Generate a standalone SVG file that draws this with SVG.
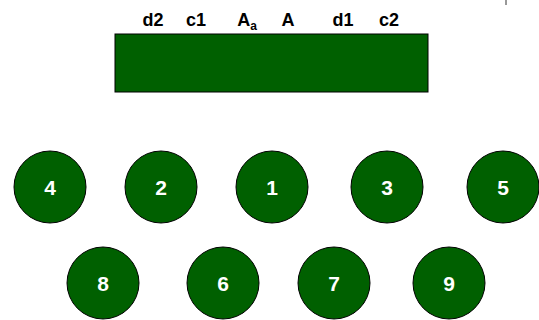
<svg xmlns="http://www.w3.org/2000/svg" width="539" height="320" viewBox="0 0 539 320">
<style>
.n{fill:#006000;stroke:#000;stroke-width:1}
.t{fill:#fff;font-family:"Liberation Sans",Arial,sans-serif;font-weight:bold;font-size:21px;text-anchor:middle}
.l{fill:#000;font-family:"Liberation Sans",Arial,sans-serif;font-weight:bold;font-size:18px;text-anchor:middle}
</style>
<rect width="539" height="320" fill="#fff"/>
<line x1="506" y1="0" x2="506" y2="5" stroke="#333" stroke-width="1"/>
<g id="bar">
<rect class="n" x="115" y="34" width="313" height="58"/>
<text class="l" x="153" y="26">d2</text>
<text class="l" x="196" y="26">c1</text>
<text class="l" x="247" y="26">A<tspan font-size="12" dy="4">a</tspan></text>
<text class="l" x="288" y="26">A</text>
<text class="l" x="343" y="26">d1</text>
<text class="l" x="389" y="26">c2</text>
</g>
<g id="node4"><circle class="n" cx="50" cy="187" r="36"/><text class="t" x="50" y="195">4</text></g>
<g id="node2"><circle class="n" cx="161" cy="187" r="36"/><text class="t" x="161" y="195">2</text></g>
<g id="node1"><circle class="n" cx="272" cy="187" r="36"/><text class="t" x="272" y="195">1</text></g>
<g id="node3"><circle class="n" cx="387" cy="187" r="36"/><text class="t" x="387" y="195">3</text></g>
<g id="node5"><circle class="n" cx="503" cy="187" r="36"/><text class="t" x="503" y="195">5</text></g>
<g id="node8"><circle class="n" cx="103" cy="283" r="36"/><text class="t" x="103" y="291">8</text></g>
<g id="node6"><circle class="n" cx="223" cy="283" r="36"/><text class="t" x="223" y="291">6</text></g>
<g id="node7"><circle class="n" cx="334" cy="283" r="36"/><text class="t" x="334" y="291">7</text></g>
<g id="node9"><circle class="n" cx="449" cy="283" r="36"/><text class="t" x="449" y="291">9</text></g>
<g id="connectors"/>
</svg>
